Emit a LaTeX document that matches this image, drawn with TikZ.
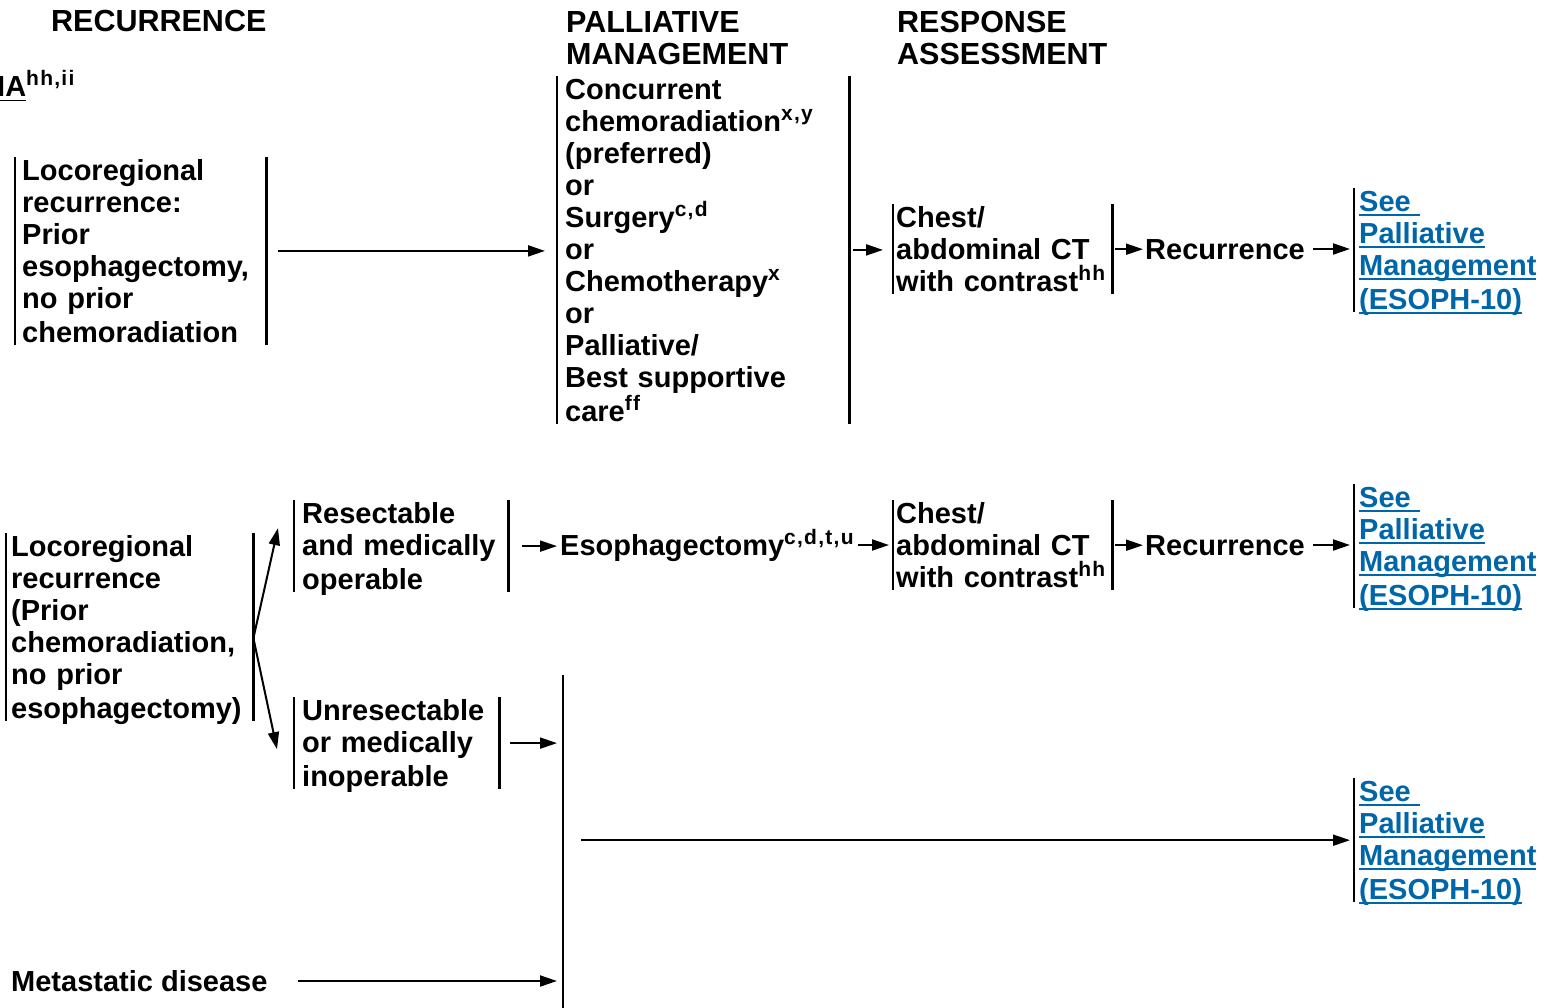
\documentclass[tikz,border=0pt]{standalone}
\usepackage{fontspec}
\setmainfont{Liberation Sans}
\usepackage{tikz}
\usetikzlibrary{arrows.meta}
\definecolor{linkblue}{RGB}{0,102,170}
\newcommand{\bxfont}{\bfseries\fontsize{29}{32}\selectfont}
\newcommand{\hdfont}{\bfseries\fontsize{30.5}{32}\selectfont}
\newcommand{\boxstrut}{\rule[-5.6pt]{0pt}{32pt}}
\newcommand{\sups}[1]{\raisebox{11pt}{\fontsize{21}{21}\selectfont\addfontfeature{LetterSpace=6}#1}}
\newcommand{\lnkline}[1]{\leavevmode\setbox0\hbox{#1}\rlap{\rule[-4.5pt]{\wd0}{1.8pt}}\box0}
\lineskiplimit=-10pt
\hyphenpenalty=10000
\tikzstyle{arrow} = [line width=2pt,-{Triangle[length=17pt,width=11pt]}]
\tikzstyle{bar} = [line width=2.6pt]
\tikzstyle{txt} = [inner sep=0pt, anchor=north west, align=left, font=\bxfont,
  execute at begin node=\boxstrut, execute at end node=\boxstrut]
\tikzstyle{head} = [txt, font=\hdfont]
\tikzstyle{lnk} = [txt, text width=180, text=linkblue]

\begin{document}
\begin{tikzpicture}[x=1pt,y=1pt]
\useasboundingbox (0,0) rectangle (1545,-1008);

% column heads
\node [head, anchor=base west] (hrec) at (51,-32) {RECURRENCE};
\node [head, text width=250] (hpal) at (566,-5.6) {PALLIATIVE\\MANAGEMENT};
\node [head, text width=250] (hresp) at (897,-5.6) {RESPONSE\\ASSESSMENT};
\node [inner sep=0pt, anchor=base west, font=\bxfont] (stage) at (-3,-97)
  {\lnkline{IA}\sups{hh,ii}};

% prior esophagectomy
\node [txt, inner xsep=7, text width=237] (rec1) at (15,-154)
  {Locoregional\\recurrence:\\Prior\\esophagectomy,\\no prior\\chemoradiation};
\node [txt, inner xsep=8, text width=276] (pal) at (557,-73)
  {Concurrent\\chemoradiation\sups{x,y}\\(preferred)\\or\\Surgery\sups{c,d}\\or\\
   Chemotherapy\sups{x}\\or\\Palliative/\\Best supportive\\care\sups{ff}};
\node [txt, inner xsep=3, text width=213] (ct1) at (893,-201)
  {Chest/\\abdominal~CT\\with~contrast\sups{hh}};
\node [txt, anchor=west] (rc1) at (1145,-249) {Recurrence};
\node [lnk, inner xsep=5] (lk1) at (1354,-185)
  {\lnkline{See\ }\\\lnkline{Palliative}\\\lnkline{Management}\\\lnkline{(ESOPH-10)}};

% prior chemoradiation
\node [txt, inner xsep=5, text width=237] (rl2) at (6,-530)
  {Locoregional\\recurrence\\(Prior\\chemoradiation,\\no prior\\esophagectomy)};
\node [txt, inner xsep=8, text width=198] (res) at (294,-497)
  {Resectable\\and~medically\\operable};
\node [txt, inner xsep=8, text width=189] (unr) at (294,-694)
  {Unresectable\\or~medically\\inoperable};
\node [txt, anchor=west] (eso) at (560,-545) {Esophagectomy\sups{c,d,t,u}};
\node [txt, inner xsep=3, text width=213] (ct2) at (893,-497)
  {Chest/\\abdominal~CT\\with~contrast\sups{hh}};
\node [txt, anchor=west] (rc2) at (1145,-545) {Recurrence};
\node [lnk, inner xsep=5] (lk2) at (1354,-481)
  {\lnkline{See\ }\\\lnkline{Palliative}\\\lnkline{Management}\\\lnkline{(ESOPH-10)}};

% metastatic
\node [txt, anchor=west] (met) at (11,-981) {Metastatic disease};
\node [lnk, inner xsep=5] (lk3) at (1354,-775)
  {\lnkline{See\ }\\\lnkline{Palliative}\\\lnkline{Management}\\\lnkline{(ESOPH-10)}};
\coordinate (vtop) at (563,-675);
\coordinate (vbot) at (563,-1008);
\coordinate (split) at ([yshift=-11pt]rl2.east);

% bars
\foreach \n in {rec1,pal,ct1,rl2,res,ct2,unr}
  \draw [bar] ([yshift=-3pt]\n.north west) -- ([yshift=3pt]\n.south west)
              ([yshift=-3pt]\n.north east) -- ([yshift=3pt]\n.south east);
\foreach \n in {lk1,lk2,lk3}
  \draw [bar] ([yshift=-3pt]\n.north west) -- ([yshift=3pt]\n.south west);
\draw [bar] (vtop) -- (vbot);

% arrows
\draw [arrow, shorten <=12pt, shorten >=12pt] (rec1.east) -- (rec1.east -| pal.west);
\draw [arrow, shorten <=4pt, shorten >=10pt] (pal.east) -- (pal.east -| ct1.west);
\draw [arrow, shorten <=3pt, shorten >=2pt] (ct1.east) -- (ct1.east -| rc1.west);
\draw [arrow, shorten <=8pt, shorten >=4pt] (rc1.east) -- (rc1.east -| lk1.west);

\draw [arrow] (split) -- ([shift={(-16,18)}]res.west);
\draw [arrow] (split) -- ([shift={(-17,-6)}]unr.west);
\draw [arrow, shorten <=14pt, shorten >=3pt] (res.east) -- (res.east -| eso.west);
\draw [arrow, shorten <=4pt, shorten >=4pt] (eso.east) -- (eso.east -| ct2.west);
\draw [arrow, shorten <=3pt, shorten >=2pt] (ct2.east) -- (ct2.east -| rc2.west);
\draw [arrow, shorten <=8pt, shorten >=4pt] (rc2.east) -- (rc2.east -| lk2.west);

\draw [arrow, shorten <=11pt, shorten >=6pt] (unr.east) -- (unr.east -| vtop);
\draw [arrow, shorten <=30pt, shorten >=6pt] (met.east) -- (met.east -| vtop);
\draw [arrow, shorten <=18pt, shorten >=4pt] (vtop |- lk3.west) -- (lk3.west);
\end{tikzpicture}
\end{document}
